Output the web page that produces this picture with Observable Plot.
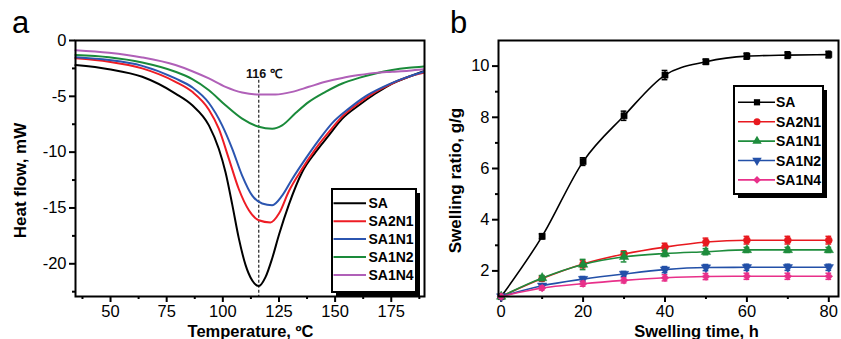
<!DOCTYPE html>
<html>
<head>
<meta charset="utf-8">
<script src="https://cdn.jsdelivr.net/npm/d3@7"></script>
<script src="https://cdn.jsdelivr.net/npm/@observablehq/plot@0.6"></script>
<style>
  html, body { margin: 0; padding: 0; background: #fff; }
  #wrap { position: relative; width: 841px; height: 339px; overflow: hidden; background: #fff; }
  #pa, #pb, #ov { position: absolute; top: 0; }
  #pa { left: 0; }
  #pb { left: 430px; }
  #ov { left: 0; pointer-events: none; }
</style>
</head>
<body>
<div id="wrap"><div id="pa"></div><div id="pb"></div><svg id="ov" width="841" height="339"></svg></div>
<script>
// ---------- Panel a: DSC curves (temperature °C, heat flow mW) ----------
const seriesNames = ["SA", "SA2N1", "SA1N1", "SA1N2", "SA1N4"];
const colorsA = ["#000000", "#ee1c24", "#2b55b0", "#1a8a3a", "#b060b8"];

const dscSA = [[34.4,-2.2],[49.3,-2.57],[64.1,-3.25],[78.9,-4.75],[86.4,-5.8],[93.8,-7.6],[98.2,-9.7],[101.2,-11.8],[104.2,-14.7],[107.1,-17.7],[110.1,-20.1],[113.1,-21.5],[116,-22.0],[119,-21.2],[122,-19.5],[125,-17.4],[129.4,-14.7],[135.3,-11.8],[141.3,-10],[147.2,-8.5],[153.2,-7.0],[160.6,-5.8],[168,-4.75],[175.4,-3.85],[182.8,-3.25],[189.5,-2.75]];
const dscSA2N1 = [[34.4,-1.6],[49.3,-1.9],[64.1,-2.5],[78.9,-3.7],[86.4,-4.6],[93.8,-6.2],[98.2,-7.9],[102.7,-10.6],[107.1,-13.3],[111.6,-15.2],[116,-16.1],[121.2,-16.3],[125,-15.5],[129.4,-13.5],[135.3,-11.5],[141.3,-9.7],[147.2,-8.2],[153.2,-6.8],[160.6,-5.6],[168,-4.6],[175.4,-3.85],[182.8,-3.25],[189.5,-2.9]];
const dscSA1N1 = [[34.4,-1.5],[49.3,-1.75],[64.1,-2.27],[78.9,-3.4],[86.4,-4.2],[93.8,-5.6],[99.7,-7.6],[104.2,-9.7],[108.6,-12.1],[113.1,-13.9],[117.5,-14.6],[122,-14.75],[126.4,-13.9],[130.9,-12.4],[136.8,-10.6],[142.8,-8.9],[148.7,-7.4],[156.1,-6.1],[163.5,-5.0],[171,-4.2],[178.4,-3.55],[189.5,-2.8]];
const dscSA1N2 = [[34.4,-1.3],[49.3,-1.5],[64.1,-1.97],[78.9,-2.8],[86.4,-3.46],[93.8,-4.45],[101.2,-5.8],[108.6,-7.0],[116,-7.73],[122,-7.9],[126.4,-7.6],[132.4,-6.5],[138.3,-5.5],[145.7,-4.6],[153.2,-3.85],[160.6,-3.35],[168,-2.95],[175.4,-2.65],[182.8,-2.45],[189.5,-2.33]];
const dscSA1N4 = [[34.4,-0.87],[49.3,-1.1],[64.1,-1.52],[78.9,-2.2],[86.4,-2.75],[93.8,-3.4],[101.2,-4.15],[108.6,-4.66],[116,-4.84],[123.5,-4.84],[130.9,-4.6],[138.3,-4.15],[145.7,-3.7],[153.2,-3.35],[160.6,-3.1],[168,-2.9],[175.4,-2.8],[182.8,-2.7],[189.5,-2.57]];

const tempTicks = [50, 75, 100, 125, 150, 175];
const tempMinor = [37.5, 62.5, 87.5, 112.5, 137.5, 162.5, 187.5];
const heatTicks = [0, -5, -10, -15, -20];
const heatMinor = [-2.5, -7.5, -12.5, -17.5, -22.5];
const peakTemp = 116;
const peakLabel = "116 ℃";

// ---------- Panel b: swelling ratio vs time ----------
const colorsB = ["#000000", "#e8191f", "#1e8c3c", "#2350a8", "#e8308a"];
const symbolsB = ["square", "circle", "triangle", "triangle", "diamond2"];
const rotateB = [0, 0, 0, 180, 0];
const times = [0, 10, 20, 30, 40, 50, 60, 70, 80];
const swSA    = [1.0, 3.35, 6.27, 8.06, 9.65, 10.17, 10.39, 10.43, 10.45];
const swSA2N1 = [1.0, 1.70, 2.27, 2.66, 2.93, 3.13, 3.20, 3.20, 3.20];
const swSA1N1 = [1.0, 1.72, 2.25, 2.55, 2.68, 2.75, 2.82, 2.82, 2.82];
const swSA1N2 = [1.0, 1.42, 1.68, 1.88, 2.05, 2.13, 2.14, 2.14, 2.14];
const swSA1N4 = [1.0, 1.33, 1.50, 1.63, 1.73, 1.78, 1.79, 1.79, 1.79];
const errSA    = [0.05, 0.10, 0.15, 0.18, 0.18, 0.10, 0.12, 0.13, 0.13];
const errSA2N1 = [0.05, 0.10, 0.15, 0.12, 0.15, 0.15, 0.15, 0.15, 0.15];
const errSA1N1 = [0.05, 0.10, 0.20, 0.20, 0.12, 0.12, 0.10, 0.10, 0.10];
const errSA1N2 = [0.05, 0.08, 0.10, 0.10, 0.12, 0.12, 0.12, 0.12, 0.12];
const errSA1N4 = [0.05, 0.08, 0.10, 0.10, 0.12, 0.12, 0.12, 0.12, 0.12];

const timeTicks = [0, 20, 40, 60, 80];
const timeMinor = [10, 30, 50, 70];
const ratioTicks = [2, 4, 6, 8, 10];
const ratioMinor = [3, 5, 7, 9];

// ---------- build ----------
const FONT = "'Liberation Sans', Arial, Helvetica, sans-serif";
const dscAll = [dscSA, dscSA2N1, dscSA1N1, dscSA1N2, dscSA1N4];
const yA = [-22.93, 0];

const marksA = [
  Plot.axisX({ticks: tempTicks, tickSize: 6, tickPadding: 3, label: null, strokeWidth: 2, tickFormat: d => String(d)}),
  Plot.axisX({ticks: tempMinor, tickSize: 3, label: null, strokeWidth: 2, tickFormat: () => ""}),
  Plot.axisY({ticks: heatTicks, tickSize: 6, tickPadding: 3, label: null, strokeWidth: 2, tickFormat: d => String(d)}),
  Plot.axisY({ticks: heatMinor, tickSize: 3, label: null, strokeWidth: 2, tickFormat: () => ""}),
  Plot.ruleX([peakTemp], {x: d => d, y1: -3.55, y2: yA[0], stroke: "#222", strokeWidth: 1.2, strokeDasharray: "3,2"}),
  Plot.text([peakLabel], {x: peakTemp, y: -3.4, dx: 5, text: d => d, lineAnchor: "bottom", fontSize: 12.5, fontWeight: "bold", fill: "#111"})
];
dscAll.forEach((pts, i) => {
  marksA.push(Plot.line(pts, {x: d => d[0], y: d => d[1], stroke: colorsA[i], strokeWidth: 2, curve: "monotone-x"}));
});
marksA.push(Plot.frame({stroke: "#000", strokeWidth: 2}));

const plotA = Plot.plot({
  width: 430, height: 339,
  marginLeft: 75, marginRight: 6, marginTop: 40, marginBottom: 43,
  style: {fontFamily: FONT, fontSize: "16.5px", color: "#000", background: "transparent", overflow: "visible"},
  x: {domain: [34.4, 189.8]},
  y: {domain: yA},
  marks: marksA
});
document.getElementById("pa").appendChild(plotA);

const swAll = [swSA, swSA2N1, swSA1N1, swSA1N2, swSA1N4];
const errAll = [errSA, errSA2N1, errSA1N1, errSA1N2, errSA1N4];
const marksB = [
  Plot.axisX({ticks: timeTicks, tickSize: 6, tickPadding: 3, label: null, strokeWidth: 2, tickFormat: d => String(d)}),
  Plot.axisX({ticks: timeMinor, tickSize: 3, label: null, strokeWidth: 2, tickFormat: () => ""}),
  Plot.axisY({ticks: ratioTicks, tickSize: 6, tickPadding: 3, label: null, strokeWidth: 2, tickFormat: d => String(d)}),
  Plot.axisY({ticks: ratioMinor, tickSize: 3, label: null, strokeWidth: 2, tickFormat: () => ""})
];
swAll.forEach((vals, i) => {
  const rows = times.map((t, j) => ({t, v: vals[j], e: errAll[i][j]}));
  const c = colorsB[i];
  marksB.push(
    Plot.line(rows, {x: "t", y: "v", stroke: c, strokeWidth: 1.6, curve: "monotone-x"}),
    Plot.ruleX(rows, {x: "t", y1: d => d.v - d.e, y2: d => d.v + d.e, stroke: c, strokeWidth: 1.5}),
    Plot.ruleY(rows, {y: d => d.v + d.e, x1: d => d.t - 0.7, x2: d => d.t + 0.7, stroke: c, strokeWidth: 1.5}),
    Plot.ruleY(rows, {y: d => d.v - d.e, x1: d => d.t - 0.7, x2: d => d.t + 0.7, stroke: c, strokeWidth: 1.5}),
    Plot.dot(rows, {x: "t", y: "v", symbol: symbolsB[i], rotate: rotateB[i], r: 3.5, fill: c, stroke: c, strokeWidth: 0.5})
  );
});
marksB.push(Plot.frame({stroke: "#000", strokeWidth: 2}));

const plotB = Plot.plot({
  width: 411, height: 339,
  marginLeft: 68, marginRight: 3, marginTop: 40, marginBottom: 43,
  style: {fontFamily: FONT, fontSize: "16.5px", color: "#000", background: "transparent", overflow: "visible"},
  x: {domain: [-0.66, 82.37]},
  y: {domain: [1, 11]},
  marks: marksB
});
document.getElementById("pb").appendChild(plotB);

// ---------- overlay: panel letters, axis titles, legends ----------
const ov = d3.select("#ov").style("font-family", FONT);
ov.append("text").attr("x", 12).attr("y", 33).attr("font-size", 31).text("a");
ov.append("text").attr("x", 450).attr("y", 33).attr("font-size", 31).text("b");
ov.append("text").attr("transform", "translate(26,180.5) rotate(-90)").attr("text-anchor", "middle")
  .attr("font-size", 17).attr("font-weight", "bold").text("Heat flow, mW");
ov.append("text").attr("transform", "translate(461,180.5) rotate(-90)").attr("text-anchor", "middle")
  .attr("font-size", 17).attr("font-weight", "bold").text("Swelling ratio, g/g");
ov.append("text").attr("x", 250.5).attr("y", 337).attr("text-anchor", "middle")
  .attr("font-size", 16.5).attr("font-weight", "bold").text("Temperature, ºC");
ov.append("text").attr("x", 696.5).attr("y", 337).attr("text-anchor", "middle")
  .attr("font-size", 16.5).attr("font-weight", "bold").text("Swelling time, h");

// legend a
{
  const bx = 332, by = 189, bw = 84, bh = 103;
  ov.append("rect").attr("x", bx + 4).attr("y", by + 4).attr("width", bw).attr("height", bh).attr("fill", "#000");
  ov.append("rect").attr("x", bx).attr("y", by).attr("width", bw).attr("height", bh).attr("fill", "#fff").attr("stroke", "#000").attr("stroke-width", 2);
  seriesNames.forEach((n, i) => {
    const y = 203.3 + i * 17.9;
    ov.append("line").attr("x1", 333.5).attr("x2", 366).attr("y1", y).attr("y2", y).attr("stroke", colorsA[i]).attr("stroke-width", 2);
    ov.append("text").attr("x", 368.5).attr("y", y).attr("dy", "0.36em").attr("font-size", 14).attr("font-weight", "bold").text(n);
  });
}
// legend b
{
  const bx = 734, by = 86, bw = 89, bh = 108;
  ov.append("rect").attr("x", bx + 4).attr("y", by + 4).attr("width", bw).attr("height", bh).attr("fill", "#000");
  ov.append("rect").attr("x", bx).attr("y", by).attr("width", bw).attr("height", bh).attr("fill", "#fff").attr("stroke", "#000").attr("stroke-width", 2);
  const symMap = {square: d3.symbolSquare, circle: d3.symbolCircle, triangle: d3.symbolTriangle, diamond2: d3.symbolDiamond2 || d3.symbolDiamond};
  seriesNames.forEach((n, i) => {
    const y = 102.3 + i * 19.4;
    ov.append("line").attr("x1", 738).attr("x2", 775).attr("y1", y).attr("y2", y).attr("stroke", colorsB[i]).attr("stroke-width", 1.6);
    ov.append("path").attr("d", d3.symbol(symMap[symbolsB[i]], Math.PI * 3.5 * 3.5)())
      .attr("transform", `translate(757,${y}) rotate(${rotateB[i]})`).attr("fill", colorsB[i]);
    ov.append("text").attr("x", 776).attr("y", y).attr("dy", "0.36em").attr("font-size", 14).attr("font-weight", "bold").text(n);
  });
}
</script>
</body>
</html>
